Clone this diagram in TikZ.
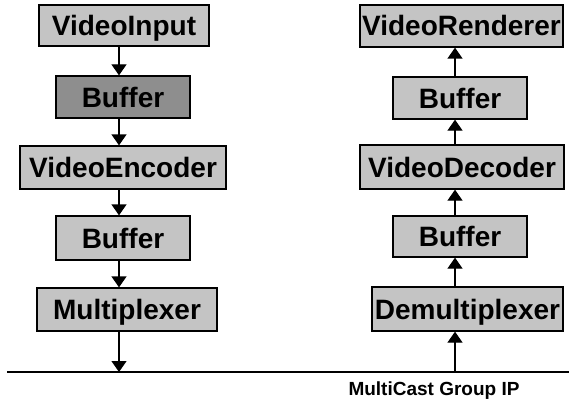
\documentclass[tikz,border=0pt]{standalone}
\usepackage{fontspec}
\setmainfont{Liberation Sans}
\usetikzlibrary{arrows.meta}
\definecolor{boxlight}{HTML}{C4C4C4}
\definecolor{boxdark}{HTML}{8E8E8E}
\tikzset{
  blk/.style={draw=black, line width=1.3pt, fill=boxlight, inner sep=0pt,
    font=\bfseries\fontsize{28}{30}\selectfont, text height=20pt, text depth=0pt},
  darkblk/.style={blk, fill=boxdark},
  arr/.style={line width=1.3pt, -{Triangle[width=15pt,length=11pt]}},
}
\begin{document}
\begin{tikzpicture}[x=1pt,y=-1pt]
\useasboundingbox (0,0) rectangle (569,401);
% left column
\node[blk, minimum width=170pt, minimum height=41pt] (vi) at (124,25.5) {VideoInput};
\node[darkblk, minimum width=134pt, minimum height=42pt] (lb1) at (123,97) {Buffer};
\node[blk, minimum width=206pt, minimum height=43pt] (ve) at (123,167.5) {VideoEncoder};
\node[blk, minimum width=134pt, minimum height=44pt] (lb2) at (123,238) {Buffer};
\node[blk, minimum width=180pt, minimum height=43pt] (mx) at (127,309.5) {Multiplexer};
% right column
\node[blk, minimum width=203pt, minimum height=42pt] (vr) at (461.5,26) {VideoRenderer};
\node[blk, minimum width=134pt, minimum height=42pt] (rb1) at (460,98) {Buffer};
\node[blk, minimum width=204pt, minimum height=44pt] (vd) at (462,167) {VideoDecoder};
\node[blk, minimum width=134pt, minimum height=41pt] (rb2) at (460,236.5) {Buffer};
\node[blk, minimum width=191pt, minimum height=44pt] (dm) at (467.5,309) {Demultiplexer};
% network line
\coordinate (netL) at (7,372);
\coordinate (netR) at (569,372);
\draw[line width=1.2pt] (netL) -- (netR);
\coordinate (lx) at (119,0);
\coordinate (rx) at (455,0);
\node[inner sep=0pt, font=\bfseries\fontsize{19}{21}\selectfont, text height=14pt, text depth=0pt] (mc) at (434,388.5) {MultiCast Group IP};
% left arrows
\draw[arr] (vi.south -| lx) -- (lb1.north -| lx);
\draw[arr] (lb1.south -| lx) -- (ve.north -| lx);
\draw[arr] (ve.south -| lx) -- (lb2.north -| lx);
\draw[arr] (lb2.south -| lx) -- (mx.north -| lx);
\draw[arr] (mx.south -| lx) -- (netL -| lx);
% right arrows
\draw[arr] (netR -| rx) -- (dm.south -| rx);
\draw[arr] (dm.north -| rx) -- (rb2.south -| rx);
\draw[arr] (rb2.north -| rx) -- (vd.south -| rx);
\draw[arr] (vd.north -| rx) -- (rb1.south -| rx);
\draw[arr] (rb1.north -| rx) -- (vr.south -| rx);
\end{tikzpicture}
\end{document}
